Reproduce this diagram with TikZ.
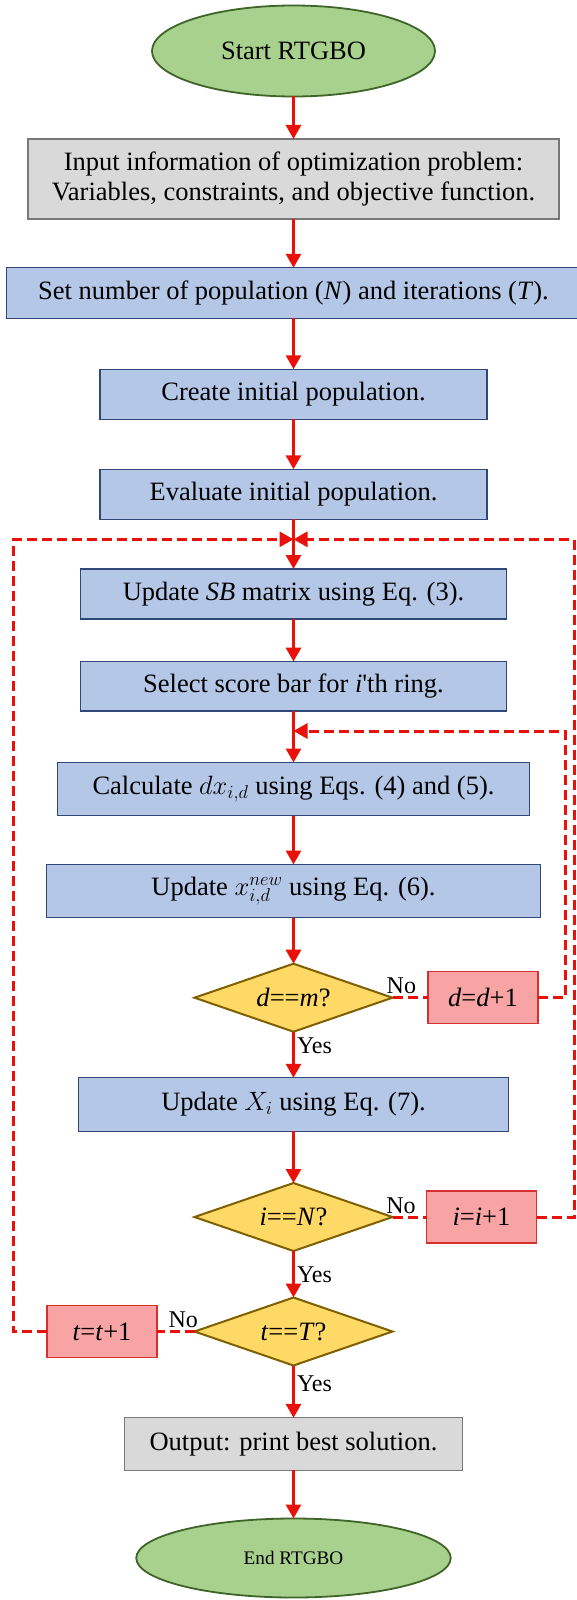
\documentclass[tikz,border=0pt]{standalone}
\usepackage{fix-cm}
\usepackage{fontspec}
\setmainfont{Liberation Serif}[Ligatures=TeXOff]
\usepackage{tikz}
\usetikzlibrary{arrows.meta,shapes.geometric,positioning}
\definecolor{flowred}{RGB}{232,18,10}
\definecolor{termfill}{RGB}{169,209,142}
\definecolor{termline}{RGB}{62,100,40}
\definecolor{grayfill}{RGB}{217,217,217}
\definecolor{grayline}{RGB}{120,120,120}
\definecolor{bluefill}{RGB}{180,199,231}
\definecolor{blueline}{RGB}{47,72,120}
\definecolor{redfill}{RGB}{248,164,164}
\definecolor{redline}{RGB}{214,48,48}
\definecolor{decfill}{RGB}{255,217,102}
\definecolor{decline}{RGB}{127,96,0}
\tikzset{base/.style={outer sep=0pt, align=center, text=black, font=\fontsize{26.5}{30}\selectfont},
terminal/.style={base, ellipse, draw=termline, fill=termfill, line width=1.8pt},
graybox/.style={base, rectangle, draw=grayline, fill=grayfill, line width=1.2pt},
bluebox/.style={base, rectangle, draw=blueline, fill=bluefill, line width=1.2pt},
redbox/.style={base, rectangle, draw=redline, fill=redfill, line width=1.2pt, minimum width=110pt, minimum height=52pt},
decision/.style={base, diamond, aspect=2.9, draw=decline, fill=decfill, line width=2pt, minimum width=198pt, minimum height=68pt, inner sep=0pt},
flow/.style={draw=flowred, line width=3pt, -{Triangle[width=15pt,length=14pt]}},
back/.style={draw=flowred, line width=3pt, dash pattern=on 10pt off 5pt},
backarrow/.style={back, -{Triangle[width=15pt,length=14pt]}},
answer/.style={font=\fontsize{24}{26}\selectfont, inner sep=2pt}}

\begin{document}
\begin{tikzpicture}[x=1pt, y=-1pt]
\useasboundingbox (0,0) rectangle (576,1600);

\node[terminal, minimum width=283pt, minimum height=91pt] (start) at (293.5,51) {Start RTGBO};
\node[graybox, minimum width=531pt, minimum height=80pt] (input) at (293.5,179) {Input information of optimization problem:\\ Variables, constraints, and objective function.};
\node[bluebox, minimum width=574pt, minimum height=50.5pt] (setup) at (293.5,293) {Set number of population (\textit{N}) and iterations (\textit{T}).};
\node[bluebox, minimum width=387pt, minimum height=50pt] (create) at (293.5,394.3) {Create initial population.};
\node[bluebox, minimum width=387pt, minimum height=50pt] (eval) at (293.5,494.3) {Evaluate initial population.};
\coordinate (jn) at (293.5,539.3);
\node[bluebox, minimum width=426.5pt, minimum height=50pt] (usb) at (293.5,594) {Update \textit{SB} matrix using Eq. (3).};
\node[bluebox, minimum width=426.5pt, minimum height=49.5pt] (sel) at (293.5,686.3) {Select score bar for \textit{i}'th ring.};
\coordinate (jm) at (293.5,731);
\node[bluebox, minimum width=472.5pt, minimum height=53pt] (calc) at (293.5,789) {Calculate $dx_{i,d}$ using Eqs. (4) and (5).};
\node[bluebox, minimum width=494.5pt, minimum height=53pt] (updx) at (293.5,891) {Update $x_{i,d}^{new}$ using Eq. (6).};
\node[decision] (dm) at (293.5,997.7) {\textit{d}==\textit{m}?};
\node[redbox] (dplus) at (483,997.7) {\textit{d}=\textit{d}+1};
\node[bluebox, minimum width=430pt, minimum height=53.5pt] (updX) at (293.5,1104.5) {Update $X_i$ using Eq. (7).};
\node[decision] (iN) at (293.5,1217) {\textit{i}==\textit{N}?};
\node[redbox] (iplus) at (481.5,1217) {\textit{i}=\textit{i}+1};
\node[decision] (tT) at (293.5,1331.5) {\textit{t}==\textit{T}?};
\node[redbox] (tplus) at (102,1331.5) {\textit{t}=\textit{t}+1};
\node[graybox, minimum width=338pt, minimum height=52.3pt] (output) at (293.5,1444) {Output: print best solution.};
\node[terminal, minimum width=314.5pt, minimum height=79pt, font=\fontsize{19.2}{22}\selectfont] (finish) at (293.5,1558) {End RTGBO};

% main flow
\draw[flow] (start) -- (input);
\draw[flow] (input) -- (setup);
\draw[flow] (setup) -- (create);
\draw[flow] (create) -- (eval);
\draw[flow] (eval) -- (usb);
\draw[flow] (usb) -- (sel);
\draw[flow] (sel) -- (calc);
\draw[flow] (calc) -- (updx);
\draw[flow] (updx) -- (dm);
\draw[flow] (dm) -- node[answer, right, pos=0.3] {Yes} (updX);
\draw[flow] (updX) -- (iN);
\draw[flow] (iN) -- node[answer, right, pos=0.5] {Yes} (tT);
\draw[flow] (tT) -- node[answer, right, pos=0.34] {Yes} (output);
\draw[flow] (output) -- (finish);

% loops back
\draw[back] (dm.east) -- node[answer, above, pos=0.25] {No} (dplus.west);
\draw[backarrow] (dplus.east) -- ++(27,0) |- (jm);
\draw[back] (iN.east) -- node[answer, above, pos=0.25] {No} (iplus.west);
\draw[backarrow] (iplus.east) -- ++(37.5,0) |- (jn);
\draw[back] (tT.west) -- node[answer, above, pos=0.3] {No} (tplus.east);
\draw[backarrow] (tplus.west) -- ++(-34,0) |- (jn);

\end{tikzpicture}
\end{document}
